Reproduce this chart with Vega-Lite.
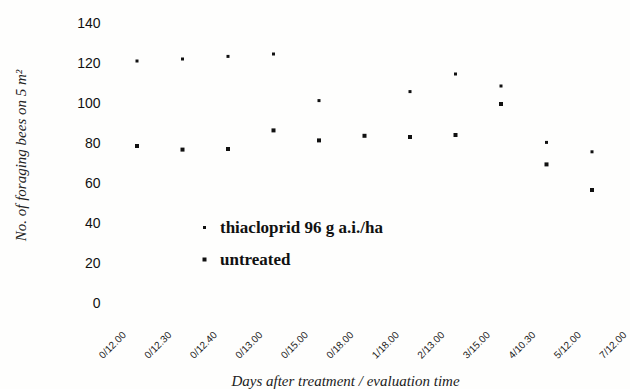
{
  "$schema": "https://vega.github.io/schema/vega-lite/v6.json",
  "width": 526,
  "height": 280,
  "autosize": {"type": "none"},
  "padding": {"left": 104, "top": 23, "right": 0, "bottom": 86},
  "background": "#fefefd",
  "config": {"view": {"stroke": null}},
  "data": {"values": [
    {"time": "0/12.00", "series": "thiacloprid 96 g a.i./ha", "bees": 121},
    {"time": "0/12.30", "series": "thiacloprid 96 g a.i./ha", "bees": 122},
    {"time": "0/12.40", "series": "thiacloprid 96 g a.i./ha", "bees": 123.3},
    {"time": "0/13.00", "series": "thiacloprid 96 g a.i./ha", "bees": 124.5},
    {"time": "0/15.00", "series": "thiacloprid 96 g a.i./ha", "bees": 101.2},
    {"time": "1/18.00", "series": "thiacloprid 96 g a.i./ha", "bees": 105.7},
    {"time": "2/13.00", "series": "thiacloprid 96 g a.i./ha", "bees": 114.5},
    {"time": "3/15.00", "series": "thiacloprid 96 g a.i./ha", "bees": 108.5},
    {"time": "4/10.30", "series": "thiacloprid 96 g a.i./ha", "bees": 80.3},
    {"time": "5/12.00", "series": "thiacloprid 96 g a.i./ha", "bees": 75.6},
    {"time": "0/12.00", "series": "untreated", "bees": 78.5},
    {"time": "0/12.30", "series": "untreated", "bees": 76.7},
    {"time": "0/12.40", "series": "untreated", "bees": 77},
    {"time": "0/13.00", "series": "untreated", "bees": 86.3},
    {"time": "0/15.00", "series": "untreated", "bees": 81.3},
    {"time": "0/18.00", "series": "untreated", "bees": 83.6},
    {"time": "1/18.00", "series": "untreated", "bees": 83},
    {"time": "2/13.00", "series": "untreated", "bees": 84},
    {"time": "3/15.00", "series": "untreated", "bees": 99.5},
    {"time": "4/10.30", "series": "untreated", "bees": 69.3},
    {"time": "5/12.00", "series": "untreated", "bees": 56.5}
  ]},
  "mark": {"type": "point", "filled": true, "opacity": 1, "color": "#111", "size": 16},
  "encoding": {
    "x": {
      "field": "time",
      "type": "ordinal",
      "scale": {
        "type": "point",
        "domain": ["0/12.00", "0/12.30", "0/12.40", "0/13.00", "0/15.00", "0/18.00", "1/18.00", "2/13.00", "3/15.00", "4/10.30", "5/12.00", "7/12.00"],
        "range": [33, 533.5],
        "padding": 0
      },
      "axis": {
        "title": "Days after treatment / evaluation time",
        "titleFont": "Liberation Serif",
        "titleFontStyle": "italic",
        "titleFontWeight": "normal",
        "titleFontSize": 15,
        "titleColor": "#222",
        "titleX": 241,
        "titleY": 82,
        "titleBaseline": "alphabetic",
        "titleAnchor": "middle",
        "titleAlign": "center",
        "domain": false,
        "ticks": false,
        "grid": false,
        "labelAngle": -45,
        "labelAlign": "right",
        "labelBaseline": "middle",
        "labelFont": "Liberation Sans",
        "labelFontSize": 10,
        "labelColor": "#222",
        "labelPadding": 30,
        "labelOffset": -13
      }
    },
    "y": {
      "field": "bees",
      "type": "quantitative",
      "scale": {"domain": [0, 140], "nice": false},
      "axis": {
        "title": "No. of foraging bees on 5 m²",
        "titleFont": "Liberation Serif",
        "titleFontStyle": "italic",
        "titleFontWeight": "normal",
        "titleFontSize": 15,
        "titleColor": "#222",
        "titleX": -84,
        "titleY": 132,
        "titleAngle": 270,
        "titleBaseline": "middle",
        "titleAlign": "center",
        "values": [0, 20, 40, 60, 80, 100, 120, 140],
        "domain": false,
        "ticks": false,
        "grid": false,
        "labelFont": "Liberation Sans",
        "labelFontSize": 14,
        "labelColor": "#111",
        "labelPadding": 4
      }
    },
    "shape": {
      "field": "series",
      "type": "nominal",
      "scale": {
        "domain": ["thiacloprid 96 g a.i./ha", "untreated"],
        "range": ["M-0.75,-0.75H0.75V0.75H-0.75Z", "M-1,-1H1V1H-1Z"]
      },
      "legend": {
        "title": null,
        "orient": "none",
        "legendX": 92,
        "legendY": 196,
        "padding": 0,
        "symbolSize": 16,
        "symbolFillColor": "#111",
        "symbolStrokeWidth": 0,
        "labelFont": "Liberation Serif",
        "labelFontWeight": "bold",
        "labelFontSize": 17,
        "labelColor": "#111",
        "labelOffset": 7,
        "labelLimit": 400,
        "rowPadding": 14
      }
    }
  }
}
